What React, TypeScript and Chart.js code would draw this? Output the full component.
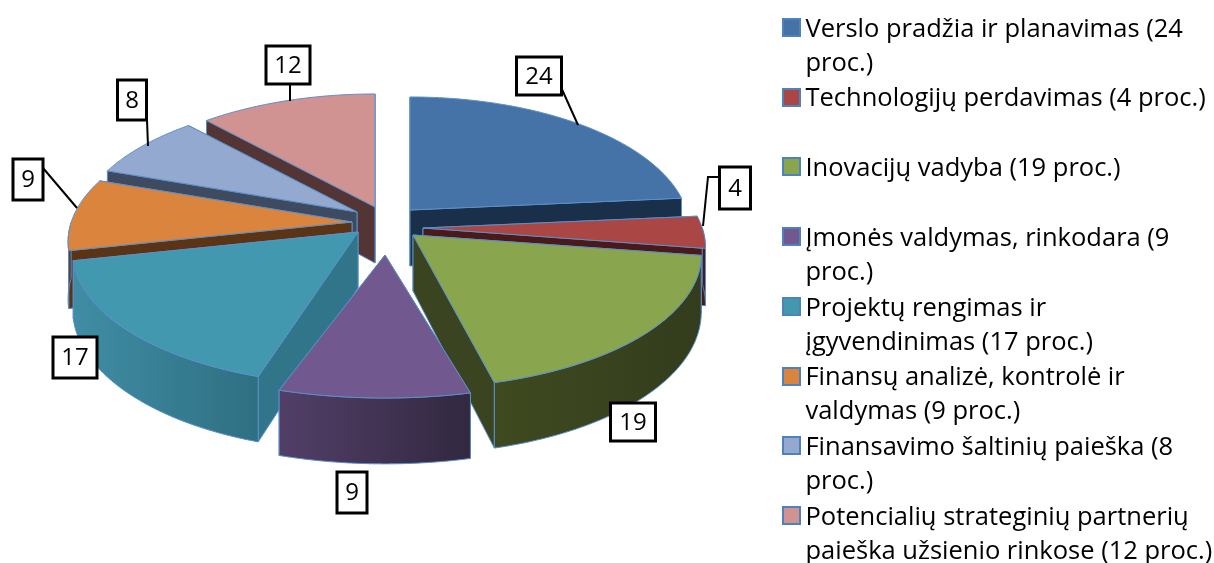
import React, { useEffect, useRef } from "react";
import { Chart, registerables } from "chart.js";

Chart.register(...registerables);

const categories = [
  ["Verslo pradžia ir planavimas (24", "proc.)"],
  ["Technologijų perdavimas (4 proc.)", ""],
  ["Inovacijų vadyba (19 proc.)", ""],
  ["Įmonės valdymas, rinkodara (9", "proc.)"],
  ["Projektų rengimas ir", "įgyvendinimas (17 proc.)"],
  ["Finansų analizė, kontrolė ir", "valdymas (9 proc.)"],
  ["Finansavimo šaltinių paieška (8", "proc.)"],
  ["Potencialių strateginių partnerių", "paieška užsienio rinkose (12 proc.)"],
];
const values = [24, 4, 19, 9, 17, 9, 8, 12];

const topColors = ["#4573a7", "#aa4644", "#89a54e", "#71588f", "#4198af", "#db843d", "#93a9cf", "#d19392"];
const wallColors = ["#1a2f4a", "#4a1a1a", "#3a4420", "#3a2c4c", "#30758a", "#5a3415", "#3d4a60", "#533535"];
const rimFrom = ["#1a2f4a", "#4a1a1a", "#3f4a20", "#523f68", "#3f8da4", "#5a3415", "#3d4a60", "#533535"];
const rimTo = ["#1a2f4a", "#4a1a1a", "#333c1c", "#322840", "#2f6f82", "#5a3415", "#3d4a60", "#533535"];
const edgeColor = "#5b8fc9";

// layout of the tilted projection
const apexShift = [[27, -18], [40, 0], [30, 7], [2, 27], [-25, 4], [-31, -6], [-26, -16], [-8, -21]];
const radialScale = [[0.97, 1], [0.98, 1], [1, 1], [1.05, 0.935], [0.99, 1], [0.985, 1], [0.975, 1], [0.975, 1]];
const view = { cx: 383, cy: 228, rx: 285, ry: 130, k: 0.15, depth: 56 };

// legend rhythm
const legendLine = 34;
const legendPad = 1.7;

// label boxes: centre x, centre y, width, height
const labelBoxes = [
  [539, 76, 45, 38], [735, 188, 31, 42], [633, 422, 45, 38], [352, 492.5, 30, 41],
  [75, 357.5, 44, 41], [28, 179.5, 30, 41], [132, 100, 29, 40], [288, 65, 44, 38],
];
const leaders: number[][][] = [
  [[560, 85], [578, 125]],
  [[720, 177], [708, 177], [703, 226]],
  [], [], [],
  [[43, 168], [77, 208]],
  [[147, 120], [148, 146]],
  [[290, 84], [290, 101]],
];

const legendBox = (color: string) => {
  const c = document.createElement("canvas");
  c.width = 5;
  c.height = 13;
  const x = c.getContext("2d")!;
  x.fillStyle = color;
  x.fillRect(0, 0, 5, 13);
  return c;
};

const pie3d = {
  id: "pie3d",
  beforeDatasetsDraw() {
    return false;
  },
  afterDraw(chart: any) {
    const ctx: CanvasRenderingContext2D = chart.ctx;
    const arcs = chart.getDatasetMeta(0).data;
    const pt = (i: number, a: number, z = 0) => {
      const u = Math.cos(a), v = Math.sin(a);
      const s = 1 / (1 - view.k * v);
      return [
        view.cx + apexShift[i][0] + u * view.rx * s * radialScale[i][0],
        view.cy + apexShift[i][1] + v * view.ry * s * radialScale[i][1] + z * s,
      ];
    };
    const order = arcs
      .map((arc: any, i: number) => ({ arc, i, mid: (arc.startAngle + arc.endAngle) / 2 }))
      .sort((p: any, q: any) => Math.sin(p.mid) - Math.sin(q.mid));
    const fillPoly = (pts: number[][], fill: any) => {
      ctx.beginPath();
      pts.forEach((p, n) => (n ? ctx.lineTo(p[0], p[1]) : ctx.moveTo(p[0], p[1])));
      ctx.closePath();
      ctx.fillStyle = fill;
      ctx.fill();
      ctx.strokeStyle = edgeColor;
      ctx.lineWidth = 1;
      ctx.stroke();
    };
    for (const { arc, i } of order) {
      const a0 = arc.startAngle, a1 = arc.endAngle;
      const apex = [view.cx + apexShift[i][0], view.cy + apexShift[i][1]];
      const apexLow = [apex[0], apex[1] + view.depth];
      const walls = Math.sin(a0) < Math.sin(a1) ? [a0, a1] : [a1, a0];
      for (const a of walls) {
        fillPoly([apex, pt(i, a), pt(i, a, view.depth), apexLow], wallColors[i]);
      }
      const steps = 60;
      const rimTop: number[][] = [];
      for (let n = 0; n <= steps; n++) {
        const a = a0 + ((a1 - a0) * n) / steps;
        if (Math.sin(a) >= -0.005) rimTop.push(pt(i, a));
      }
      if (rimTop.length > 1) {
        const low: number[][] = [];
        for (let n = steps; n >= 0; n--) {
          const a = a0 + ((a1 - a0) * n) / steps;
          if (Math.sin(a) >= -0.005) low.push(pt(i, a, view.depth));
        }
        const g = ctx.createLinearGradient(
          Math.min(rimTop[0][0], rimTop[rimTop.length - 1][0]), 0,
          Math.max(rimTop[0][0], rimTop[rimTop.length - 1][0]), 0
        );
        g.addColorStop(0, rimFrom[i]);
        g.addColorStop(1, rimTo[i]);
        fillPoly([...rimTop, ...low], g);
      }
      const top: number[][] = [apex];
      for (let n = 0; n <= steps; n++) top.push(pt(i, a0 + ((a1 - a0) * n) / steps));
      fillPoly(top, topColors[i]);
    }
    // leaders and value boxes
    ctx.strokeStyle = "#000";
    leaders.forEach((line) => {
      if (!line.length) return;
      ctx.beginPath();
      line.forEach((p, n) => (n ? ctx.lineTo(p[0], p[1]) : ctx.moveTo(p[0], p[1])));
      ctx.lineWidth = 2;
      ctx.stroke();
    });
    values.forEach((val, i) => {
      const [x, y, w, h] = labelBoxes[i];
      ctx.fillStyle = "#fff";
      ctx.fillRect(x - w / 2, y - h / 2, w, h);
      ctx.strokeStyle = "#000";
      ctx.lineWidth = 3;
      ctx.strokeRect(x - w / 2, y - h / 2, w, h);
      ctx.fillStyle = "#000";
      ctx.font = "24px 'Open Sans'";
      ctx.textAlign = "center";
      ctx.textBaseline = "middle";
      ctx.fillText(String(val), x, y + 1);
    });
    // full legend swatches, which overhang the legend's own clip area on the left
    const first = chart.legend.legendHitBoxes[0];
    categories.forEach((_, i) => {
      const x = Math.round(first.left - 5.7);
      const y = Math.round(first.top + 1.3 + i * (2 * legendLine + legendPad));
      ctx.fillStyle = "#4f81bd";
      ctx.fillRect(x, y, 19, 19);
      ctx.fillStyle = topColors[i];
      ctx.fillRect(x + 2, y + 2, 15, 15);
    });
  },
};

export default function App() {
  const ref = useRef<HTMLCanvasElement>(null);
  useEffect(() => {
    document.body.style.margin = "0";
    const chart = new Chart(ref.current!, {
      type: "pie",
      data: {
        labels: categories.map((c) => c.join(" ").trim()),
        datasets: [{ data: values, backgroundColor: topColors, borderWidth: 0 }],
      },
      options: {
        responsive: false,
        animation: false,
        layout: { padding: { top: 15, right: 0, left: 0, bottom: 0 } },
        plugins: {
          tooltip: { enabled: false },
          legend: {
            position: "right",
            align: "start",
            maxWidth: 428,
            labels: {
              color: "#000",
              font: { family: "'Open Sans'", size: 25.5, lineHeight: legendLine / 25.5 },
              padding: legendPad,
              boxWidth: 5,
              boxHeight: 13,
              usePointStyle: true,
              generateLabels: () =>
                categories.map((text, i) => ({
                  text,
                  fillStyle: topColors[i],
                  strokeStyle: edgeColor,
                  pointStyle: legendBox(topColors[i]),
                  lineWidth: 0,
                  index: i,
                })) as any,
            },
          },
        },
      },
      plugins: [pie3d],
    } as any);
    return () => chart.destroy();
  }, []);
  return <canvas ref={ref} width={1214} height={563} style={{ display: "block" }} />;
}
